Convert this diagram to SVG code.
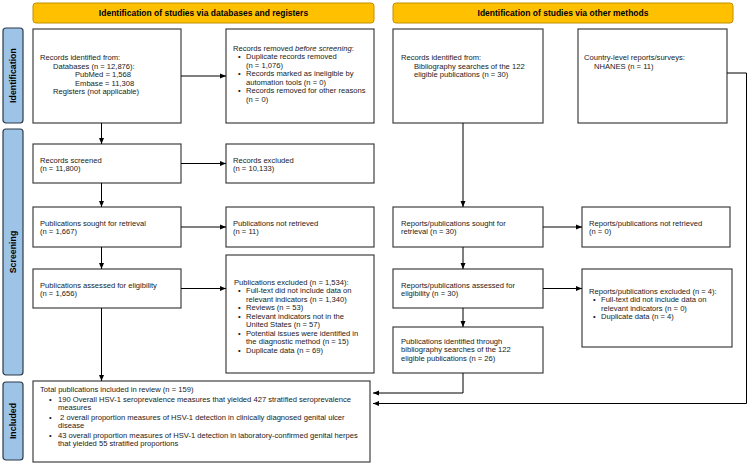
<svg xmlns="http://www.w3.org/2000/svg" width="749" height="464" viewBox="0 0 749 464">
<defs>
<style>
.hdr{fill:#FFC000;stroke:#C09000;stroke-width:1}
.side{fill:#9DC3E6;stroke:#2E3A4A;stroke-width:1.2}
.box{fill:#fff;stroke:#404040;stroke-width:1.2}
text{font-family:"Liberation Sans",Arial,sans-serif;font-size:7.6px;fill:#1a1a1a}
.ht{font-weight:bold;font-size:8.5px;text-anchor:middle;fill:#000}
.st{font-weight:bold;font-size:8.8px;text-anchor:middle;fill:#000}
.con{fill:none;stroke:#000;stroke-width:1;marker-end:url(#ah)}
</style>
<marker id="ah" viewBox="0 0 6 6" refX="6" refY="3" markerWidth="6" markerHeight="6" markerUnits="userSpaceOnUse" orient="auto">
<path d="M0,0.5 L6,3 L0,5.5 Z" fill="#000"/>
</marker>
</defs>
<rect width="749" height="464" fill="#fff"/>

<g id="header-db"><rect class="hdr" x="33" y="3" width="341" height="20" rx="3"/><text class="ht" x="203.5" y="16">Identification of studies via databases and registers</text></g>
<g id="header-other"><rect class="hdr" x="393" y="3" width="340" height="20" rx="3"/><text class="ht" x="563" y="16">Identification of studies via other methods</text></g>

<g id="side-identification"><rect class="side" x="3" y="28" width="20" height="95" rx="3"/><text class="st" transform="translate(16.2,75.5) rotate(-90)">Identification</text></g>
<g id="side-screening"><rect class="side" x="3" y="129" width="20" height="246" rx="3"/><text class="st" transform="translate(16.2,252) rotate(-90)">Screening</text></g>
<g id="side-included"><rect class="side" x="3" y="382" width="20" height="78" rx="3"/><text class="st" transform="translate(16.2,421) rotate(-90)">Included</text></g>

<g id="records-identified"><rect class="box" x="33" y="29" width="148" height="94"/>
<text x="40" y="60">Records identified from:</text>
<text x="53" y="68.5">Databases (n = 12,876):</text>
<text x="75" y="77">PubMed = 1,568</text>
<text x="75" y="85.5">Embase = 11,308</text>
<text x="53" y="94">Registers (not applicable)</text></g>

<g id="records-removed"><rect class="box" x="226" y="29" width="148" height="94"/>
<text x="233" y="50.5">Records removed <tspan font-style="italic">before screening</tspan>:</text>
<text x="238" y="59">•</text><text x="246" y="59">Duplicate records removed</text>
<text x="246" y="67.5">(n = 1,076)</text>
<text x="238" y="76">•</text><text x="246" y="76">Records marked as ineligible by</text>
<text x="246" y="84.5">automation tools (n = 0)</text>
<text x="238" y="93">•</text><text x="246" y="93">Records removed for other reasons</text>
<text x="246" y="101.5">(n = 0)</text></g>

<g id="other-records"><rect class="box" x="393" y="29" width="150" height="94"/>
<text x="401" y="60">Records identified from:</text>
<text x="414" y="68.5">Bibliography searches of the 122</text>
<text x="414" y="77">eligible publications (n = 30)</text></g>

<g id="country-reports"><rect class="box" x="578" y="29" width="149" height="94"/>
<text x="584" y="60">Country-level reports/surveys:</text>
<text x="594" y="68.5">NHANES (n = 11)</text></g>

<g id="records-screened"><rect class="box" x="33" y="144" width="148" height="39"/>
<text x="40" y="162.5">Records screened</text>
<text x="40" y="170.5">(n = 11,800)</text></g>

<g id="records-excluded"><rect class="box" x="226" y="144" width="148" height="39"/>
<text x="233" y="162.5">Records excluded</text>
<text x="233" y="170.5">(n = 10,133)</text></g>

<g id="pubs-sought"><rect class="box" x="33" y="207" width="148" height="40"/>
<text x="40" y="225.5">Publications sought for retrieval</text>
<text x="40" y="233.5">(n = 1,667)</text></g>

<g id="pubs-not-retrieved"><rect class="box" x="226" y="207" width="148" height="40"/>
<text x="233" y="225.5">Publications not retrieved</text>
<text x="233" y="233.5">(n = 11)</text></g>

<g id="reports-sought"><rect class="box" x="393" y="207" width="150" height="40"/>
<text x="401" y="225.5">Reports/publications sought for</text>
<text x="401" y="233.5">retrieval (n = 30)</text></g>

<g id="reports-not-retrieved"><rect class="box" x="582" y="207" width="148" height="40"/>
<text x="589" y="225.5">Reports/publications not retrieved</text>
<text x="589" y="233.5">(n = 0)</text></g>

<g id="pubs-assessed"><rect class="box" x="33" y="269" width="148" height="39"/>
<text x="40" y="287.5">Publications assessed for eligibility</text>
<text x="40" y="295.5">(n = 1,656)</text></g>

<g id="pubs-excluded"><rect class="box" x="226" y="255" width="148" height="118"/>
<text x="234" y="284.5">Publications excluded (n = 1,534):</text>
<text x="238" y="293">•</text><text x="246" y="293">Full-text did not include data on</text>
<text x="246" y="301.5">relevant indicators (n = 1,340)</text>
<text x="238" y="310">•</text><text x="246" y="310">Reviews (n = 53)</text>
<text x="238" y="318.5">•</text><text x="246" y="318.5">Relevant indicators not in the</text>
<text x="246" y="327">United States (n = 57)</text>
<text x="238" y="335.5">•</text><text x="246" y="335.5">Potential issues were identified in</text>
<text x="246" y="344">the diagnostic method (n = 15)</text>
<text x="238" y="352.5">•</text><text x="246" y="352.5">Duplicate data (n = 69)</text></g>

<g id="reports-assessed"><rect class="box" x="393" y="269" width="150" height="39"/>
<text x="401" y="287.5">Reports/publications assessed for</text>
<text x="401" y="295.5">eligibility (n = 30)</text></g>

<g id="reports-excluded"><rect class="box" x="582" y="269" width="150" height="78"/>
<text x="589" y="293.5">Reports/publications excluded (n = 4):</text>
<text x="593" y="302">•</text><text x="601" y="302">Full-text did not include data on</text>
<text x="601" y="310.5">relevant indicators (n = 0)</text>
<text x="593" y="319">•</text><text x="601" y="319">Duplicate data (n = 4)</text></g>

<g id="pubs-identified"><rect class="box" x="393" y="327" width="150" height="46"/>
<text x="401" y="343.5">Publications identified through</text>
<text x="401" y="352">bibliography searches of the 122</text>
<text x="401" y="360.5">eligible publications (n = 26)</text></g>

<g id="total-included"><rect class="box" x="33" y="381" width="337" height="81"/>
<text x="40" y="391.5">Total publications included in review (n = 159)</text>
<text x="49" y="401.5" font-size="9">•</text><text x="58" y="401.5">190 Overall HSV-1 seroprevalence measures that yielded 427 stratified seroprevalence</text>
<text x="58" y="409.5">measures</text>
<text x="49" y="419.5" font-size="9">•</text><text x="58" y="419.5" xml:space="preserve"> 2 overall proportion measures of HSV-1 detection in clinically diagnosed genital ulcer</text>
<text x="58" y="427.5">disease</text>
<text x="49" y="437.5" font-size="9">•</text><text x="58" y="437.5">43 overall proportion measures of HSV-1 detection in laboratory-confirmed genital herpes</text>
<text x="58" y="445.5">that yielded 55 stratified proportions</text></g>

<g id="connectors">
<path class="con" d="M181,76 H226"/>
<path class="con" d="M101.5,123 V144"/>
<path class="con" d="M181,163.5 H226"/>
<path class="con" d="M101.5,183 V207"/>
<path class="con" d="M181,227 H226"/>
<path class="con" d="M101.5,247 V269"/>
<path class="con" d="M181,288.5 H226"/>
<path class="con" d="M101.5,308 V381"/>
<path class="con" d="M463,123 V207"/>
<path class="con" d="M543,227 H582"/>
<path class="con" d="M463,247 V269"/>
<path class="con" d="M543,288.5 H582"/>
<path class="con" d="M463,308 V327"/>
<path class="con" d="M463,373 V393 H373"/>
<path class="con" d="M727,73 H746.5 V403.5 H373"/>
</g>
</svg>
